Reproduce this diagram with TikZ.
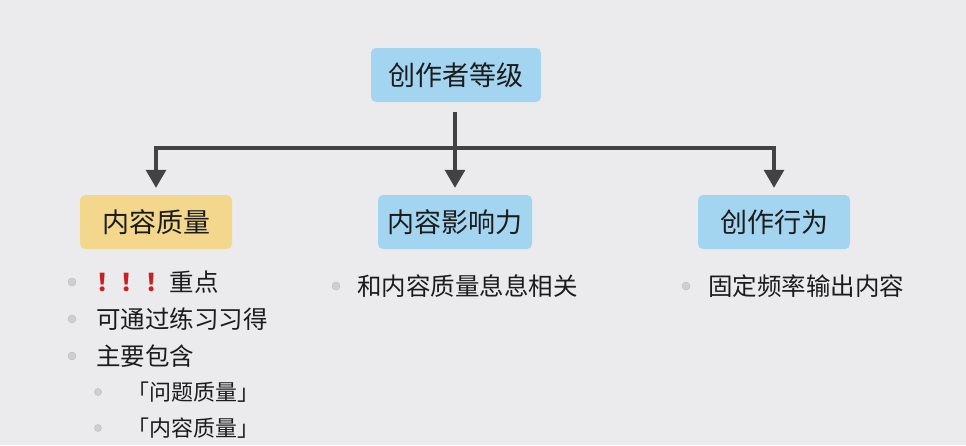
\documentclass[tikz,border=0pt]{standalone}
\usepackage{fontspec}
\setmainfont{Noto Sans CJK SC}
\usetikzlibrary{arrows.meta}
\definecolor{bg}{HTML}{EBEBED}
\definecolor{boxblue}{HTML}{A3D4F0}
\definecolor{boxyellow}{HTML}{F2D78D}
\definecolor{linegray}{HTML}{424242}
\definecolor{txt}{HTML}{1C1C1C}
\definecolor{bulletgray}{HTML}{CFCFD2}
\definecolor{excl}{HTML}{C8211E}
\tikzset{
  box/.style={rounded corners=5pt, minimum height=54pt, inner sep=0pt, text=txt, font=\fontsize{27}{30}\selectfont},
  bluebox/.style={box, fill=boxblue},
  yellowbox/.style={box, fill=boxyellow},
  arr/.style={draw=linegray, line width=3.2pt, -{Triangle[width=20pt,length=18pt]}},
  item/.style={anchor=west, inner sep=0pt, text=txt, font=\fontsize{24.5}{28}\selectfont},
  subitem/.style={anchor=west, inner sep=0pt, text=txt, font=\fontsize{22}{26}\selectfont},
  dot/.style={circle, inner sep=0pt, minimum size=8pt, fill=bulletgray, draw=gray!55, line width=0.4pt},
  smalldot/.style={dot, minimum size=7pt}
}
\begin{document}
\begin{tikzpicture}[x=1pt,y=-1pt]
\fill[bg] (0,0) rectangle (966,445);
\useasboundingbox (0,0) rectangle (966,445);
% boxes
\node[bluebox, minimum width=170pt] (top) at (456,75) {创作者等级};
\node[yellowbox, minimum width=152pt] (l) at (156,222) {内容质量};
\node[bluebox, minimum width=154pt] (m) at (455,222) {内容影响力};
\node[bluebox, minimum width=152pt] (r) at (774,222) {创作行为};
% connectors
\coordinate (t0) at (455,112);
\coordinate (j) at (455,148);
\draw[arr] (t0) -- ([yshift=7pt]m.north);
\draw[arr] (j) -| ([yshift=7pt]l.north);
\draw[arr] (j) -| ([yshift=7pt]r.north);
% left items
\node[dot] (b1) at (72,282) {};
\node[item] (i1) at (96,282) {\textcolor{excl}{\textbf{！！！}}重点};
\node[dot] (b2) at (72,319) {};
\node[item] (i2) at (96,319) {可通过练习习得};
\node[dot] (b3) at (72,356) {};
\node[item] (i3) at (96,356) {主要包含};
\node[smalldot] (b4) at (98,392) {};
\node[subitem] (i4) at (127,392) {「问题质量」};
\node[smalldot] (b5) at (98,428) {};
\node[subitem] (i5) at (127,428) {「内容质量」};
% middle item
\node[dot] (b6) at (336,286) {};
\node[item] (i6) at (357,286) {和内容质量息息相关};
% right item
\node[dot] (b7) at (686,286) {};
\node[item] (i7) at (708,286) {固定频率输出内容};
\end{tikzpicture}
\end{document}
